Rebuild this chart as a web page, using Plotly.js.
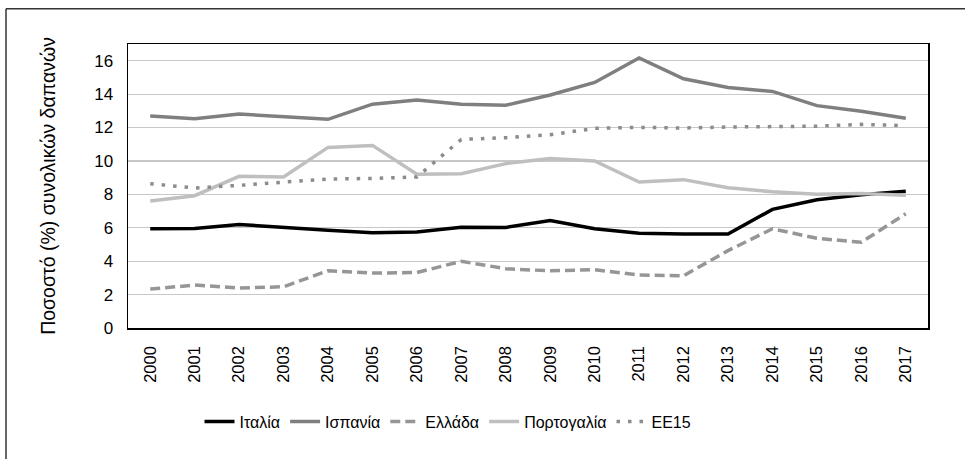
<!DOCTYPE html>
<html>
<head>
<meta charset="utf-8">
<script src="https://cdn.plot.ly/plotly-3.0.1.min.js"></script>
<style>html,body{margin:0;padding:0;background:#fff;}#chart{width:965px;height:459px;}</style>
</head>
<body>
<div id="chart"></div>
<script>
const years = ["2000","2001","2002","2003","2004","2005","2006","2007","2008","2009","2010","2011","2012","2013","2014","2015","2016","2017"];
const italy = [5.94,5.95,6.2,6.0,5.85,5.7,5.75,6.03,6.02,6.44,5.94,5.67,5.62,5.63,7.1,7.68,7.98,8.18];
const spain = [12.69,12.53,12.81,12.65,12.49,13.4,13.65,13.4,13.33,13.95,14.7,16.16,14.92,14.4,14.16,13.31,12.97,12.55];
const greece = [2.33,2.57,2.39,2.47,3.43,3.29,3.32,3.99,3.55,3.42,3.49,3.17,3.13,4.63,5.94,5.37,5.13,6.84];
const portugal = [7.6,7.92,9.08,9.04,10.81,10.93,9.2,9.24,9.84,10.15,10.0,8.74,8.88,8.4,8.15,8.0,8.05,7.94];
const ee15 = [8.64,8.38,8.54,8.72,8.92,8.95,9.04,11.29,11.39,11.57,11.95,12.01,11.97,12.03,12.06,12.08,12.19,12.11];
const names = ["Ιταλία","Ισπανία","Ελλάδα","Πορτογαλία","ΕΕ15"];
const yTitle = "Ποσοστό (%) συνολικών δαπανών";

const traces = [
  {x: years, y: italy, name: names[0], mode: 'lines', line: {color: '#000000', width: 3.5}},
  {x: years, y: spain, name: names[1], mode: 'lines', line: {color: '#7f7f7f', width: 3.5}},
  {x: years, y: greece, name: names[2], mode: 'lines', line: {color: '#969696', width: 3.5, dash: '10px,5px'}},
  {x: years, y: portugal, name: names[3], mode: 'lines', line: {color: '#bfbfbf', width: 3.5}},
  {x: years, y: ee15, name: names[4], mode: 'lines', line: {color: '#8c8c8c', width: 3.5, dash: '3.5px,8px'}}
];

const layout = {
  width: 965, height: 459,
  margin: {l: 128, r: 37, t: 44, b: 131},
  paper_bgcolor: '#ffffff', plot_bgcolor: '#ffffff',
  font: {family: 'Liberation Sans, Arial, sans-serif', size: 16, color: '#000'},
  showlegend: true,
  legend: {orientation: 'h', x: 0.40, xanchor: 'center', y: -0.33, yanchor: 'middle',
           font: {size: 16}, itemwidth: 30, tracegroupgap: 0},
  xaxis: {type: 'category', range: [-0.5, 17.5], tickangle: -90, showgrid: false,
          showline: true, linecolor: '#000', linewidth: 1.5, mirror: true,
          ticks: 'outside', ticklen: 10, tickcolor: 'rgba(0,0,0,0)',
          tickfont: {size: 16.5}, zeroline: false},
  yaxis: {range: [0, 17], dtick: 2, tick0: 0, showgrid: true, gridcolor: '#c8c8c8', gridwidth: 1.2,
          showline: true, linecolor: '#000', linewidth: 1.5, mirror: true, zeroline: false,
          ticks: 'outside', ticklen: 10, tickcolor: 'rgba(0,0,0,0)', tickfont: {size: 17},
          title: {text: yTitle, font: {size: 19.5}, standoff: 33}},
  shapes: [
    {type: 'line', xref: 'paper', yref: 'paper', x0: -0.1525, x1: 1.1, y0: 1.124, y1: 1.124, line: {color: '#333', width: 1.5}},
    {type: 'line', xref: 'paper', yref: 'paper', x0: -0.1525, x1: -0.1525, y0: 1.124, y1: -0.5, line: {color: '#333', width: 1.5}}
  ]
};

Plotly.newPlot('chart', traces, layout, {staticPlot: true, displayModeBar: false});
</script>
</body>
</html>
